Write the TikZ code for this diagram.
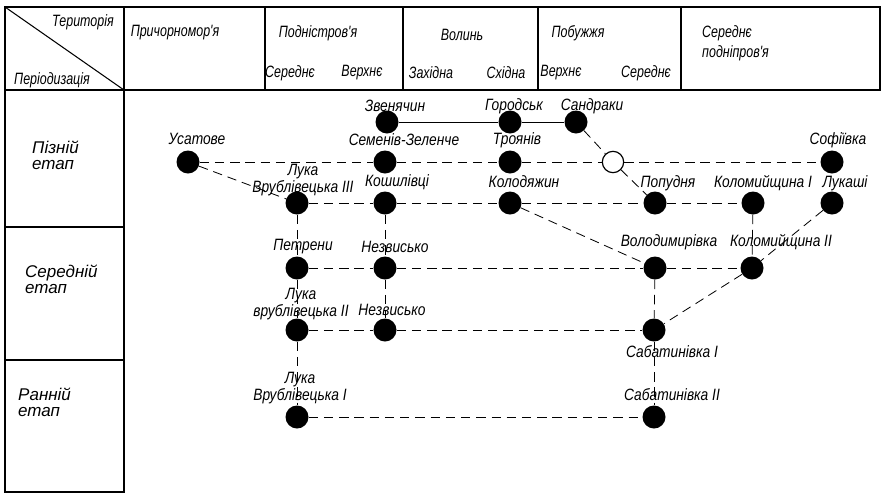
\documentclass[tikz,border=0pt]{standalone}
\usepackage{fontspec}
\setmainfont{Liberation Sans}
\newfontfamily\hdrfont{Liberation Sans}[FakeStretch=0.76]
\newfontfamily\lblfont{Liberation Sans}[FakeStretch=0.84]
\usepackage{tikz}

\begin{document}
\begin{tikzpicture}[
    x=0.03cm, y=-0.03cm,
    site/.style={circle, fill=black, inner sep=0pt, minimum size=6.9mm},
    gap/.style={circle, draw=black, line width=1pt, fill=white, inner sep=0pt, minimum size=6.4mm},
    lbl/.style={font=\lblfont\fontsize{14}{11.5}\selectfont\itshape, inner sep=0pt, align=center},
    hdr/.style={font=\hdrfont\fontsize{14}{17}\selectfont\itshape, inner sep=0pt},
    stage/.style={font=\fontsize{14.5}{13.5}\selectfont\itshape, inner sep=0pt, align=left, anchor=west},
    grid/.style={line width=0.9pt},
    link/.style={line width=0.7pt, dash pattern=on 8pt off 5pt},
    tie/.style={line width=0.7pt},
]
\useasboundingbox (0,0) rectangle (883,494);

% Table
\coordinate (tl) at (5,7);
\coordinate (hc) at (124,90);
\draw[grid] (tl) rectangle (880,90);
\draw[grid] (tl) -- (5,492) -- (124,492) -- (124,7);
\draw[grid] (tl) -- (hc);
\draw[grid] (5,227) -- (124,227);
\draw[grid] (5,360) -- (124,360);
\foreach \cx in {265,403,538,681}
    \draw[grid] (\cx,7) -- (\cx,90);

% Header texts
\node[hdr] (terr)   at (83,22)  {Територія};
\node[hdr] (period) at (52,80)  {Періодизація};
\node[hdr] (prich)  at (175,33) {Причорномор'я};
\node[hdr] (podn)   at (318,33) {Подністров'я};
\node[hdr] (podnS)  at (290,73) {Середнє};
\node[hdr] (podnV)  at (362,73) {Верхнє};
\node[hdr] (volyn)  at (462,35) {Волинь};
\node[hdr] (volynZ) at (431,73) {Західна};
\node[hdr] (volynS) at (506,73) {Східна};
\node[hdr] (pobuzh) at (578,33) {Побужжя};
\node[hdr] (pobV)   at (561,73) {Верхнє};
\node[hdr] (pobS)   at (646,73) {Середнє};
\node[hdr, align=left, anchor=west] (dnipro) at (702,43) {Середнє\\подніпров'я};

% Periods
\node[stage] (late)  at (32,155) {Пізній\\етап};
\node[stage] (mid)   at (25,279) {Середній\\етап};
\node[stage] (early) at (18,402) {Ранній\\етап};

% Sites
\node[site] (zven)    at (387,122) {};
\node[site] (gorod)   at (510,122) {};
\node[site] (sandr)   at (576,122) {};
\node[site] (usat)    at (188,162) {};
\node[site] (semen)   at (385,162) {};
\node[site] (troyan)  at (510,162) {};
\node[gap]  (blank)   at (613,162) {};
\node[site] (sofiy)   at (832,162) {};
\node[site] (lukaIII) at (297,203) {};
\node[site] (kosh)    at (385,203) {};
\node[site] (kolod)   at (510,203) {};
\node[site] (popud)   at (655,203) {};
\node[site] (kolomI)  at (753,203) {};
\node[site] (lukash)  at (832,203) {};
\node[site] (petren)  at (297,268) {};
\node[site] (nezvA)   at (385,268) {};
\node[site] (volod)   at (655,268) {};
\node[site] (kolomII) at (752,268) {};
\node[site] (lukaII)  at (297,330) {};
\node[site] (nezvB)   at (385,330) {};
\node[site] (sabI)    at (654,330) {};
\node[site] (lukaI)   at (297,417) {};
\node[site] (sabII)   at (654,417) {};

% Site names
\node[lbl] (t-zven)    at (395,106) {Звенячин};
\node[lbl] (t-gorod)   at (514,106) {Городськ};
\node[lbl] (t-sandr)   at (592,106) {Сандраки};
\node[lbl] (t-usat)    at (197,139) {Усатове};
\node[lbl] (t-semen)   at (404,140) {Семенів-Зеленче};
\node[lbl] (t-troyan)  at (517,140) {Троянів};
\node[lbl] (t-sofiy)   at (838,140) {Софіївка};
\node[lbl] (t-lukaIII) at (303,180) {Лука\\Врублівецька III};
\node[lbl] (t-kosh)    at (397,182) {Кошилівці};
\node[lbl] (t-kolod)   at (524,182) {Колодяжин};
\node[lbl] (t-popud)   at (668,183) {Попудня};
\node[lbl] (t-kolomI)  at (763,183) {Коломийщина I};
\node[lbl] (t-lukash)  at (845,183) {Лукаші};
\node[lbl] (t-petren)  at (303,247) {Петрени};
\node[lbl] (t-nezvA)   at (395,247) {Незвисько};
\node[lbl] (t-volod)   at (669,242) {Володимирівка};
\node[lbl] (t-kolomII) at (781,242) {Коломийщина II};
\node[lbl] (t-lukaII)  at (301,304) {Лука\\врублівецька II};
\node[lbl] (t-nezvB)   at (392,310) {Незвисько};
\node[lbl] (t-sabI)    at (672,352) {Сабатинівка I};
\node[lbl, font=\lblfont\fontsize{14}{14}\selectfont\itshape] (t-lukaI) at (300,388) {Лука\\Врублівецька I};
\node[lbl] (t-sabII)   at (672,395) {Сабатинівка II};

% Solid tie
\draw[tie] (zven) -- (gorod) -- (sandr);

% Late stage
\draw[link] (sandr) -- (blank);
\draw[link] (blank) -- (popud);
\draw[link] (usat) -- (semen);
\draw[link] (semen) -- (troyan);
\draw[link] (troyan) -- (blank);
\draw[link] (blank) -- (sofiy);
\draw[link] (usat) -- (lukaIII);
\draw[link] (lukaIII) -- (kosh);
\draw[link] (kosh) -- (kolod);
\draw[link] (kolod) -- (popud);
\draw[link] (popud) -- (kolomI);

% Late -> middle
\draw[link] (kolod) -- (volod);
\draw[link] (kolomI) -- (kolomII);
\draw[link] (lukash) -- (kolomII);
\draw[link] (lukaIII) -- (petren);
\draw[link] (kosh) -- (nezvA);

% Middle stage
\draw[link] (petren) -- (nezvA);
\draw[link] (nezvA) -- (volod);
\draw[link] (volod) -- (kolomII);
\draw[link] (kolomII) -- (sabI);
\draw[link] (volod) -- (sabI);
\draw[link] (petren) -- (lukaII);
\draw[link] (nezvA) -- (nezvB);
\draw[link] (lukaII) -- (nezvB);
\draw[link] (nezvB) -- (sabI);

% Early stage
\draw[link] (lukaII) -- (lukaI);
\draw[link] (sabI) -- (sabII);
\draw[link] (lukaI) -- (sabII);

\end{tikzpicture}
\end{document}
